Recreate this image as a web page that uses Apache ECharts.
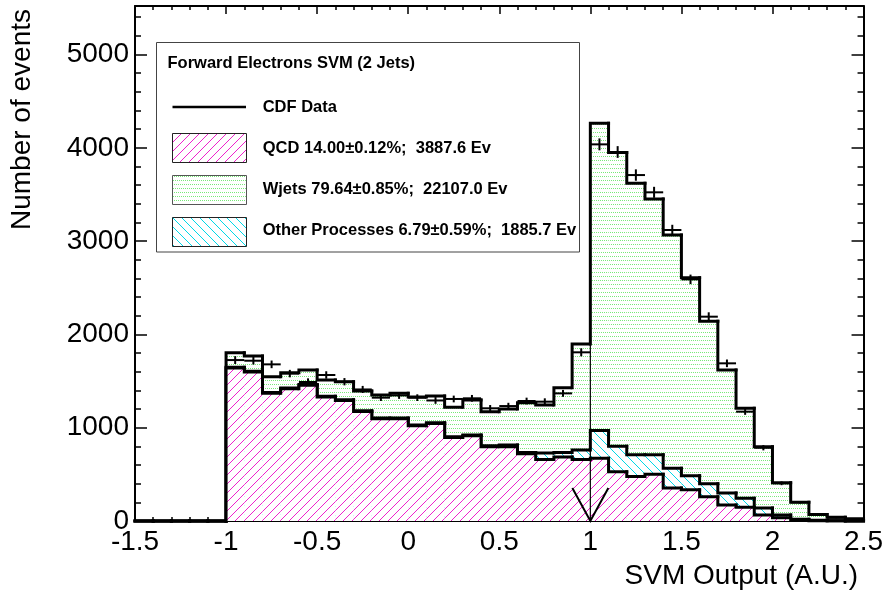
<!DOCTYPE html>
<html><head><meta charset="utf-8">
<script src="https://cdn.jsdelivr.net/npm/echarts@6/dist/echarts.min.js"></script>
<style>html,body{margin:0;padding:0;background:#fff}#c{width:886px;height:594px}</style>
</head><body><div id="c"></div>
<script>
// ---- data (bins of width 0.1, low edges) ----
const binLow = [-1.5,-1.4,-1.3,-1.2,-1.1,-1.0,-0.9,-0.8,-0.7,-0.6,-0.5,-0.4,-0.3,-0.2,-0.1,0.0,0.1,0.2,0.3,0.4,0.5,0.6,0.7,0.8,0.9,1.0,1.1,1.2,1.3,1.4,1.5,1.6,1.7,1.8,1.9,2.0,2.1,2.2,2.3,2.4];
const binWidth = 0.1;
const qcd   = [0,0,0,0,0, 1640,1597,1370,1418,1456,1329,1291,1175,1096,1096, 1020,1045,895,913,797,795,720,660,685,660, 672,529,478,500,355,336,260,171,147,64, 35,8,4,2,1];
const other = [0,0,0,0,0, 8,8,8,8,8,8,8,8,8,8, 8,8,8,8,10,20,15,70,50,100, 298,271,232,210,210,149,140,129,98,76, 30,12,4,1,0];
const wjets = [0,0,0,0,0, 156,163,169,164,154,174,194,210,246,264, 302,287,315,376,365,385,533,513,694,1137, 3292,3151,2909,2741,2500,2123,1740,1318,963,657, 346,180,63,37,24];
const cdfData = [0,0,0,0,0, 1725,1718,1679,1580,1490,1565,1493,1410,1322,1346, 1322,1292,1308,1315,1208,1232,1286,1279,1368,1808, 4037,3955,3708,3523,3119,2590,2190,1690,1172,785, 404,200,70,35,20];
const cdfErr  = [0,0,0,0,0, 42,41,41,40,39,40,39,38,36,37, 36,36,36,36,35,35,36,36,37,43, 64,63,61,59,56,51,47,41,34,28, 20,14,8,6,4];
const cutValue = 1.0;
const legendLabels = ['CDF Data','QCD 14.00\u00b10.12%;  3887.6 Ev','Wjets 79.64\u00b10.85%;  22107.0 Ev','Other Processes 6.79\u00b10.59%;  1885.7 Ev'];
const legendTitle = 'Forward Electrons SVM (2 Jets)';

// ---- patterns ----
function hatch(color, dir) {
  const c = document.createElement('canvas'); c.width = 9; c.height = 9;
  const g = c.getContext('2d');
  g.fillStyle = '#fff'; g.fillRect(0,0,9,9);
  g.strokeStyle = color; g.lineWidth = 1; g.beginPath();
  if (dir === '/') { g.moveTo(-1,10); g.lineTo(10,-1); g.moveTo(-1,1); g.lineTo(1,-1); g.moveTo(8,10); g.lineTo(10,8); }
  else { g.moveTo(-1,-1); g.lineTo(10,10); g.moveTo(8,-1); g.lineTo(10,1); g.moveTo(-1,8); g.lineTo(1,10); }
  g.stroke();
  return {image: c, repeat: 'repeat'};
}
function dots(color) {
  const c = document.createElement('canvas'); c.width = 4; c.height = 8;
  const g = c.getContext('2d');
  g.fillStyle = '#fff'; g.fillRect(0,0,4,8);
  g.fillStyle = color;
  g.fillRect(0,0,1,1); g.fillRect(2,0,1,1); g.fillRect(1,4,1,1); g.fillRect(3,4,1,1);
  return {image: c, repeat: 'repeat'};
}
const pinkFill = hatch('#ee22cc','/');
const cyanFill = hatch('#00d8e8','\\');
const greenFill = dots('#78ea78');

// cumulative stacks
const cumQ = qcd.slice();
const cumQO = qcd.map((v,i)=>v+other[i]);
const cumAll = cumQO.map((v,i)=>v+wjets[i]);

function histSeries(name, cum, fill, z) {
  const n = binLow.length;
  return {
    type:'custom', name, z, silent:true, animation:false,
    data: binLow.map((x,i)=>[x, x+binWidth, cum[i], i>0?cum[i-1]:0, i===n-1?1:0]),
    encode:{x:[0,1], y:2},
    renderItem(params, api) {
      const lo=api.value(0), hi=api.value(1), v=api.value(2), pv=api.value(3), last=api.value(4);
      const p0=api.coord([lo,0]), p1=api.coord([hi,v]), pp=api.coord([lo,pv]), pl=api.coord([lo,v]);
      const ch=[];
      if (v>0) ch.push({type:'rect', shape:{x:p0[0], y:p1[1], width:p1[0]-p0[0], height:p0[1]-p1[1]}, style:{fill}});
      ch.push({type:'polyline', shape:{points:[pp,pl,p1]}, style:{stroke:'#000', lineWidth:3, fill:null, lineCap:'square', lineJoin:'miter'}});
      if (last) { const pe=api.coord([hi,0]); ch.push({type:'line', shape:{x1:p1[0],y1:p1[1],x2:pe[0],y2:pe[1]}, style:{stroke:'#000', lineWidth:3}}); }
      return {type:'group', children:ch};
    }
  };
}

const FONT = "'Liberation Sans', Arial, Helvetica, sans-serif";
const plain = v => String(v);
const axisCommonX = {
  type:'value', min:-1.5, max:2.5, interval:0.5,
  axisLine:{onZero:false, lineStyle:{color:'#000', width:2}},
  splitLine:{show:false}
};
const axisCommonY = {
  type:'value', min:0, max:5520, interval:1000,
  axisLine:{onZero:false, lineStyle:{color:'#000', width:2}},
  splitLine:{show:false}
};

const chart = echarts.init(document.getElementById('c'), null, {renderer:'canvas'});
chart.setOption({
  animation:false,
  backgroundColor:'#fff',
  grid:{left:135, right:21, top:6, bottom:73, containLabel:false},
  xAxis:[
    Object.assign({}, axisCommonX, {position:'bottom',
      axisTick:{inside:true, length:8, lineStyle:{color:'#000', width:1.5}},
      minorTick:{show:true, splitNumber:5, length:4, lineStyle:{color:'#000', width:1.5}},
      axisLabel:{fontSize:28, fontFamily:FONT, color:'#000', margin:7, formatter:plain}}),
    Object.assign({}, axisCommonX, {position:'top',
      axisTick:{inside:true, length:8, lineStyle:{color:'#000', width:1.5}},
      minorTick:{show:true, splitNumber:5, length:4, lineStyle:{color:'#000', width:1.5}},
      axisLabel:{show:false}})
  ],
  yAxis:[
    Object.assign({}, axisCommonY, {position:'left',
      axisTick:{inside:true, length:12, lineStyle:{color:'#000', width:1.5}},
      minorTick:{show:true, splitNumber:5, length:6, lineStyle:{color:'#000', width:1.5}},
      axisLabel:{fontSize:28, fontFamily:FONT, color:'#000', margin:6, showMaxLabel:false, formatter:plain}}),
    Object.assign({}, axisCommonY, {position:'right',
      axisTick:{inside:true, length:12, lineStyle:{color:'#000', width:1.5}},
      minorTick:{show:true, splitNumber:5, length:6, lineStyle:{color:'#000', width:1.5}},
      axisLabel:{show:false}})
  ],
  series:[
    histSeries('Wjets', cumAll, greenFill, 2),
    histSeries('Other Processes', cumQO, cyanFill, 3),
    histSeries('QCD', cumQ, pinkFill, 4),
    {
      type:'custom', name:'CDF Data', z:6, silent:true, animation:false,
      data: binLow.map((x,i)=>[x, x+binWidth, cdfData[i], cdfErr[i]]),
      encode:{x:[0,1], y:2},
      renderItem(params, api) {
        const lo=api.value(0), hi=api.value(1), v=api.value(2), e=api.value(3), m=(lo+hi)/2;
        const a=api.coord([lo,v]), b=api.coord([hi,v]), c=api.coord([m,v+e]), d=api.coord([m,Math.max(0,v-e)]);
        const st={stroke:'#000', lineWidth:2};
        return {type:'group', children:[
          {type:'line', shape:{x1:a[0],y1:a[1],x2:b[0],y2:b[1]}, style:st},
          {type:'line', shape:{x1:c[0],y1:c[1],x2:d[0],y2:d[1]}, style:st}
        ]};
      }
    },
    {
      type:'custom', name:'cut', z:7, silent:true, animation:false,
      data:[[cutValue, cumAll[binLow.indexOf(1.0)]]],
      encode:{x:0, y:1},
      renderItem(params, api) {
        const t=api.coord([api.value(0), api.value(1)]), b=api.coord([api.value(0), 0]);
        return {type:'group', children:[
          {type:'line', shape:{x1:t[0],y1:t[1],x2:b[0],y2:b[1]}, style:{stroke:'#000', lineWidth:1.2}},
          {type:'polyline', shape:{points:[[b[0]-18,b[1]-33],[b[0],b[1]],[b[0]+18,b[1]-33]]}, style:{stroke:'#000', lineWidth:2, fill:null}}
        ]};
      }
    }
  ],
  graphic:[
    {type:'text', x:22, y:9, rotation:Math.PI/2, z:10,
      style:{text:'Number of events', font:"28px "+FONT, fill:'#000', align:'right', verticalAlign:'middle'}},
    {type:'text', x:858, y:576, z:10,
      style:{text:'SVM Output (A.U.)', font:"28px "+FONT, fill:'#000', align:'right', verticalAlign:'middle'}},
    {type:'group', z:20, children:[
      {type:'rect', shape:{x:156.5, y:42.5, width:423, height:209.5}, style:{fill:'#fff', stroke:'#444', lineWidth:1}},
      {type:'text', x:167.5, y:63.5, style:{text:legendTitle, font:"bold 16.5px "+FONT, fill:'#000', verticalAlign:'middle'}},
      {type:'line', shape:{x1:172.5, y1:107, x2:246, y2:107}, style:{stroke:'#000', lineWidth:2.5}},
      {type:'text', x:262.7, y:107.5, style:{text:legendLabels[0], font:"bold 16.5px "+FONT, fill:'#000', verticalAlign:'middle'}},
      {type:'rect', shape:{x:172.5, y:133.5, width:74, height:29}, style:{fill:pinkFill, stroke:'#222', lineWidth:1}},
      {type:'text', x:262.7, y:148.5, style:{text:legendLabels[1], font:"bold 16.5px "+FONT, fill:'#000', verticalAlign:'middle'}},
      {type:'rect', shape:{x:172.5, y:175.5, width:74, height:29}, style:{fill:greenFill, stroke:'#555', lineWidth:1}},
      {type:'text', x:262.7, y:189, style:{text:legendLabels[2], font:"bold 16.5px "+FONT, fill:'#000', verticalAlign:'middle'}},
      {type:'rect', shape:{x:172.5, y:217.5, width:74, height:29}, style:{fill:cyanFill, stroke:'#222', lineWidth:1}},
      {type:'text', x:262.7, y:230.5, style:{text:legendLabels[3], font:"bold 16.5px "+FONT, fill:'#000', verticalAlign:'middle'}}
    ]}
  ]
});
</script></body></html>
